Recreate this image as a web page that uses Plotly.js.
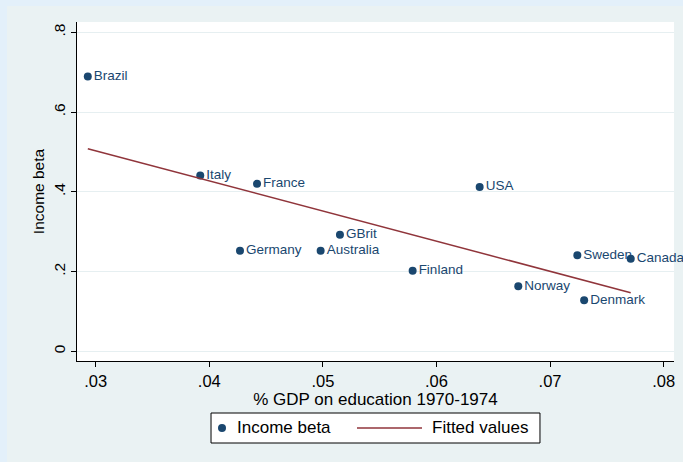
<!DOCTYPE html>
<html>
<head>
<meta charset="utf-8">
<script src="https://cdn.plot.ly/plotly-3.0.1.min.js"></script>
<style>
  html, body { margin: 0; padding: 0; background: #e3f0fa; width: 683px; height: 462px; overflow: hidden; }
  #chart { position: absolute; left: 7px; top: 6px; width: 676px; height: 456px; }
</style>
</head>
<body>
<div id="chart"></div>
<script>
// Income beta against public education spending, by country
const countries = ["Brazil", "Italy", "France", "Germany", "Australia", "GBrit",
                   "USA", "Finland", "Sweden", "Canada", "Norway", "Denmark"];
const eduShare  = [0.0293, 0.0392, 0.0442, 0.0427, 0.0498, 0.0515,
                   0.0638, 0.0579, 0.0724, 0.0771, 0.0672, 0.0730];
const incomeBeta = [0.689, 0.441, 0.420, 0.252, 0.252, 0.292,
                    0.412, 0.202, 0.241, 0.232, 0.163, 0.128];

// Linear fit, drawn between the smallest and largest education share
const fitX = [0.0293, 0.0771];
const fitY = [0.508, 0.147];

const xTicks = [0.03, 0.04, 0.05, 0.06, 0.07, 0.08];
const xTickText = [".03", ".04", ".05", ".06", ".07", ".08"];
const yTicks = [0, 0.2, 0.4, 0.6, 0.8];
const yTickText = ["0", ".2", ".4", ".6", ".8"];
const seriesNames = ["Income beta", "Fitted values"];

const navy = "#1a476f";
const maroon = "#90353b";
const font = "Liberation Sans, Arial, sans-serif";

const traces = [
  {
    x: eduShare, y: incomeBeta, text: countries,
    type: "scatter", mode: "markers+text",
    name: seriesNames[0],
    marker: { color: navy, size: 8 },
    textposition: "middle right",
    textfont: { family: font, size: 13.5, color: navy },
    cliponaxis: false
  },
  {
    x: fitX, y: fitY,
    type: "scatter", mode: "lines",
    name: seriesNames[1],
    line: { color: maroon, width: 1.5 }
  }
];

// Key below the plot: boxed, one row, with a long line sample for the fit
const keyY = -0.1976;
const keyFont = { family: font, size: 17, color: "#000" };
const keyShapes = [
  { type: "rect", xref: "paper", yref: "paper", x0: 0.2245, x1: 0.7755, y0: -0.2419, y1: -0.1534,
    fillcolor: "#ffffff", line: { color: "#000", width: 1 }, layer: "above" },
  { type: "circle", xref: "paper", yref: "paper", xsizemode: "pixel", ysizemode: "pixel",
    xanchor: 0.2429, yanchor: keyY, x0: -4, x1: 4, y0: -4, y1: 4,
    fillcolor: navy, line: { color: navy, width: 0 }, layer: "above" },
  { type: "line", xref: "paper", yref: "paper", x0: 0.4690, x1: 0.5779, y0: keyY, y1: keyY,
    line: { color: maroon, width: 1.5 }, layer: "above" }
];
const keyText = [
  { xref: "paper", yref: "paper", x: 0.2647, y: keyY, text: seriesNames[0],
    xanchor: "left", yanchor: "middle", showarrow: false, font: keyFont },
  { xref: "paper", yref: "paper", x: 0.5913, y: keyY, text: seriesNames[1],
    xanchor: "left", yanchor: "middle", showarrow: false, font: keyFont }
];

const layout = {
  width: 676, height: 456,
  margin: { l: 70, r: 9, t: 16, b: 101 },
  paper_bgcolor: "#eaf2f3",
  plot_bgcolor: "#ffffff",
  font: { family: font, size: 15, color: "#000000" },
  showlegend: false,
  xaxis: {
    range: [0.02835, 0.08091],
    tickvals: xTicks, ticktext: xTickText,
    ticks: "outside", ticklen: 5, tickwidth: 1, tickcolor: "#000",
    showgrid: false, zeroline: false,
    showline: true, linecolor: "#000", linewidth: 1,
    tickfont: { size: 16.5 },
    title: { text: "% GDP on education 1970-1974", font: { size: 17 }, standoff: 0 }
  },
  yaxis: {
    range: [-0.0243, 0.8258],
    tickvals: yTicks, ticktext: yTickText,
    tickangle: -90,
    ticks: "outside", ticklen: 5, tickwidth: 1, tickcolor: "#000",
    showgrid: true, gridcolor: "#e6eff1", gridwidth: 1,
    zeroline: false,
    showline: true, linecolor: "#000", linewidth: 1,
    tickfont: { size: 15.5 },
    title: { text: "Income beta", font: { size: 15.5 }, standoff: 2 }
  },
  shapes: keyShapes,
  annotations: keyText
};

Plotly.newPlot("chart", traces, layout, { displayModeBar: false, staticPlot: true });
</script>
</body>
</html>
